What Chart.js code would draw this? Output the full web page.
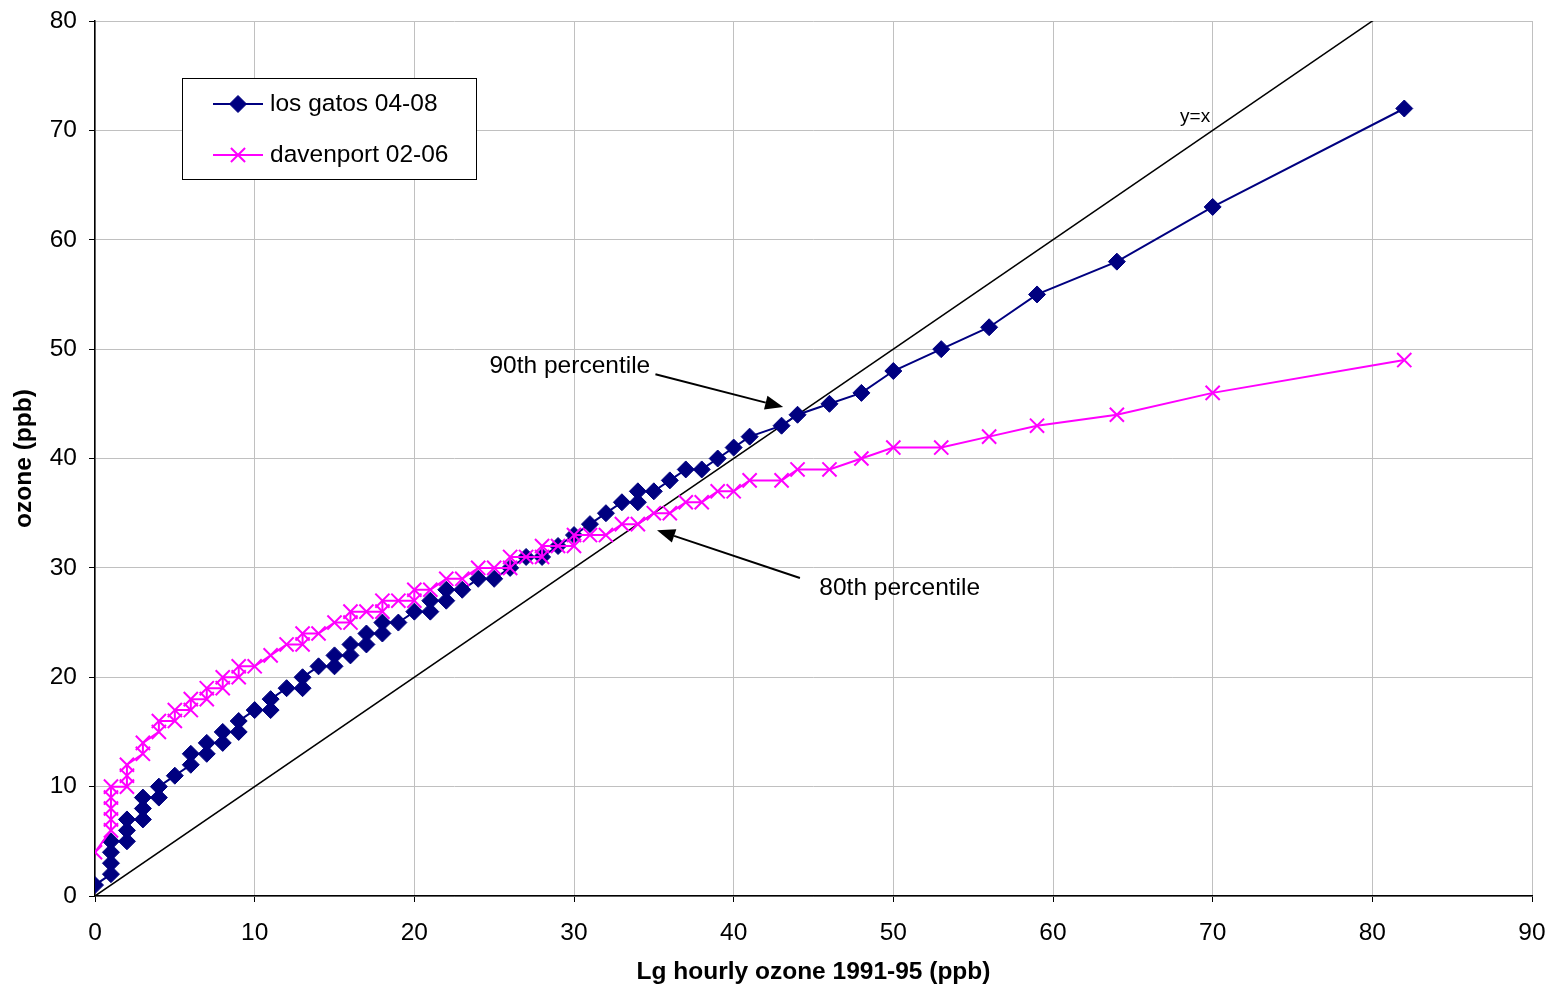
<!DOCTYPE html>
<html>
<head>
<meta charset="utf-8">
<script src="https://cdn.jsdelivr.net/npm/chart.js@4/dist/chart.umd.min.js"></script>
<style>
html,body{margin:0;padding:0;background:#fff;}
canvas{display:block;}
</style>
</head>
<body>
<canvas id="c" width="1551" height="990"></canvas>
<script>
// ---- data (x = Lg hourly ozone 1991-95 quantile, y = site quantile) ----
const losGatosX = [0,1,1,1,1,2,2,2,3,3,3,4,4,5,6,6,7,7,8,8,9,9,10,11,11,12,13,13,14,15,15,16,16,17,17,18,18,19,20,21,21,22,22,23,24,25,26,27,28,29,30,31,32,33,34,34,35,36,37,38,39,40,41,43,44,46,48,50,53,56,59,64,70,82];
const losGatosY = [1,2,3,4,5,5,6,7,7,8,9,9,10,11,12,13,13,14,14,15,15,16,17,17,18,19,19,20,21,21,22,22,23,23,24,24,25,25,26,26,27,27,28,28,29,29,30,31,31,32,33,34,35,36,36,37,37,38,39,39,40,41,42,43,44,45,46,48,50,52,55,58,63,72];
const davenportX = [0,1,1,1,1,1,2,2,2,3,3,4,4,5,5,6,6,7,7,8,8,9,9,10,11,12,13,13,14,15,16,16,17,18,18,19,20,20,21,22,23,24,25,26,26,27,28,28,29,30,30,31,32,33,34,35,36,37,38,39,40,41,43,44,46,48,50,53,56,59,64,70,82];
const davenportY = [4,6,7,8,9,10,10,11,12,13,14,15,16,16,17,17,18,18,19,19,20,20,21,21,22,23,23,24,24,25,25,26,26,26,27,27,27,28,28,29,29,30,30,30,31,31,31,32,32,32,33,33,33,34,34,35,35,36,36,37,37,38,38,39,39,40,41,41,42,43,44,46,49];
const identityX = [0,90];
const xTicks = [0,10,20,30,40,50,60,70,80,90];
const yTicks = [0,10,20,30,40,50,60,70,80];
const seriesNames = ['los gatos 04-08','davenport 02-06'];
const xTitle = 'Lg hourly ozone 1991-95 (ppb)';
const yTitle = 'ozone (ppb)';
// annotation anchors in data units
const notes = [
  {text:'90th percentile', tx:29.74, ty:48.45, ax0:35.1, ay0:47.7, ax1:43.1, ay1:44.7},
  {text:'80th percentile', tx:50.4, ty:28.15, ax0:44.15, ay0:29.07, ax1:35.2, ay1:33.45}
];
const identityLabel = {text:'y=x', x:68.9, y:71.2};

const toPts = (xs, ys) => xs.map((x,i)=>({x:x, y:ys[i]}));

const FONT = '"Liberation Sans", Arial, sans-serif';
const FS = 24.5;

const navy = '#000080', pink = '#FF00FF';

const annotate = {
  id:'annotate',
  afterDatasetsDraw(chart){
    const ctx = chart.ctx, xs = chart.scales.x, ys = chart.scales.y;
    ctx.save();
    // y=x label
    ctx.fillStyle = '#000';
    ctx.font = '19px ' + FONT;
    ctx.textAlign = 'center'; ctx.textBaseline = 'middle';
    ctx.fillText(identityLabel.text, xs.getPixelForValue(identityLabel.x), ys.getPixelForValue(identityLabel.y));
    // percentile notes
    ctx.font = FS + 'px ' + FONT;
    notes.forEach(n=>{
      ctx.fillStyle = '#000';
      ctx.fillText(n.text, xs.getPixelForValue(n.tx), ys.getPixelForValue(n.ty));
      const x0 = xs.getPixelForValue(n.ax0), y0 = ys.getPixelForValue(n.ay0);
      const x1 = xs.getPixelForValue(n.ax1), y1 = ys.getPixelForValue(n.ay1);
      const ang = Math.atan2(y1-y0, x1-x0);
      const hl = 18, hw = 7;
      const bx = x1 - hl*Math.cos(ang), by = y1 - hl*Math.sin(ang);
      ctx.strokeStyle = '#000'; ctx.lineWidth = 2;
      ctx.beginPath(); ctx.moveTo(x0,y0); ctx.lineTo(bx,by); ctx.stroke();
      ctx.beginPath();
      ctx.moveTo(x1,y1);
      ctx.lineTo(bx + hw*Math.sin(ang), by - hw*Math.cos(ang));
      ctx.lineTo(bx - hw*Math.sin(ang), by + hw*Math.cos(ang));
      ctx.closePath(); ctx.fill();
    });
    // legend box
    const a = chart.chartArea;
    const L = a.left + 87, T = a.top + 57, W = 294, H = 101;
    ctx.fillStyle = '#fff'; ctx.fillRect(L, T, W, H);
    ctx.strokeStyle = '#000'; ctx.lineWidth = 1;
    ctx.strokeRect(L+0.5, T+0.5, W, H);
    const rows = [
      {name:seriesNames[0], color:navy, style:'rectRot', r:8.5, bw:1, cy:T+26},
      {name:seriesNames[1], color:pink, style:'crossRot', r:10, bw:2, cy:T+77}
    ];
    rows.forEach(r=>{
      ctx.strokeStyle = r.color; ctx.lineWidth = 2;
      ctx.beginPath(); ctx.moveTo(L+31, r.cy); ctx.lineTo(L+81, r.cy); ctx.stroke();
      ctx.save();
      ctx.fillStyle = r.color; ctx.strokeStyle = r.color; ctx.lineWidth = r.bw;
      Chart.helpers.drawPoint(ctx, {pointStyle:r.style, radius:r.r, borderWidth:r.bw}, L+56, r.cy);
      ctx.restore();
      ctx.fillStyle = '#000';
      ctx.font = FS + 'px ' + FONT;
      ctx.textAlign = 'left'; ctx.textBaseline = 'middle';
      ctx.fillText(r.name, L+88, r.cy);
    });
    ctx.restore();
  }
};

new Chart(document.getElementById('c'), {
  type:'scatter',
  data:{
    datasets:[
      {label:seriesNames[1], data:toPts(davenportX, davenportY), showLine:true,
       borderColor:pink, backgroundColor:pink, borderWidth:2,
       pointStyle:'crossRot', pointRadius:10, pointBorderWidth:2, pointBorderColor:pink, order:0},
      {label:seriesNames[0], data:toPts(losGatosX, losGatosY), showLine:true,
       borderColor:navy, backgroundColor:navy, borderWidth:2,
       pointStyle:'rectRot', pointRadius:8.5, pointBorderWidth:1, pointBorderColor:navy, pointBackgroundColor:navy, order:1},
      {label:'y=x', data:toPts(identityX, identityX), showLine:true,
       borderColor:'#000', borderWidth:1.5, pointRadius:0, order:2}
    ]
  },
  options:{
    responsive:false, animation:false,
    layout:{padding:{left:0, top:21, right:19, bottom:0}},
    plugins:{legend:{display:false}, tooltip:{enabled:false}},
    scales:{
      x:{type:'linear', min:0, max:90,
        afterBuildTicks(s){ s.ticks = xTicks.map(v=>({value:v})); },
        afterFit(s){ s.height = 94; s.paddingLeft = 0; s.paddingRight = 0; },
        grid:{color:'#c0c0c0', lineWidth:1, tickLength:6, tickColor:'#000'},
        border:{color:'#000', width:1.5},
        ticks:{font:{family:FONT, size:FS}, color:'#000', padding:17, maxRotation:0},
        title:{display:true, text:xTitle, color:'#000', font:{family:FONT, size:FS, weight:'bold'}, padding:{top:0,bottom:3}}
      },
      y:{type:'linear', min:0, max:80,
        afterBuildTicks(s){ s.ticks = yTicks.map(v=>({value:v})); },
        afterFit(s){ s.width = 95; s.paddingTop = 0; s.paddingBottom = 0; },
        grid:{color:'#c0c0c0', lineWidth:1, tickLength:6, tickColor:'#000'},
        border:{color:'#000', width:1.5},
        ticks:{font:{family:FONT, size:FS}, color:'#000', padding:12},
        title:{display:true, text:yTitle, color:'#000', font:{family:FONT, size:FS, weight:'bold'}, padding:{top:10,bottom:0}}
      }
    }
  },
  plugins:[annotate]
});
</script>
</body>
</html>
